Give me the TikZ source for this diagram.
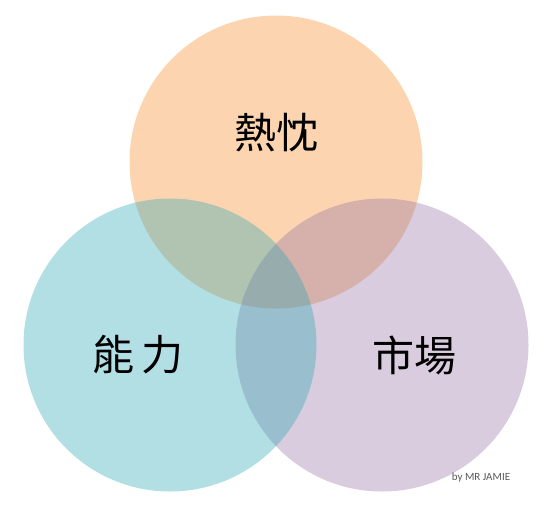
\documentclass[tikz,border=0pt]{standalone}
\usepackage{fontspec}
\setmainfont{Carlito}
\newfontfamily\cjk{Noto Sans CJK TC}
\usetikzlibrary{positioning}
\definecolor{passioncol}{RGB}{247,138,36}
\definecolor{skillcol}{RGB}{41,166,180}
\definecolor{marketcol}{RGB}{147,113,163}
\definecolor{signcol}{RGB}{89,89,89}

\begin{document}
\begin{tikzpicture}[x=1pt,y=-1pt,set/.style={circle,fill=#1,fill opacity=0.36,minimum size=293pt,inner sep=0pt},lbl/.style={font=\cjk\fontsize{42}{42}\selectfont,inner sep=0pt}]
  \useasboundingbox (0,0) rectangle (546,509);
  \node[set=passioncol] (passion) at (276,162) {};
  \node[set=marketcol] (market) at (382,345) {};
  \node[set=skillcol] (skill) at (170,345) {};

  \node[lbl] (passiontxt) at (276,133) {熱忱};
  \node[lbl] (skilltxt) at (138,355) {能\,力};
  \node[lbl] (markettxt) at (414,355) {市場};
  \node[font=\fontsize{11}{11}\selectfont,text=signcol,inner sep=0pt] (sign) at (481,478) {by MR JAMIE};
\end{tikzpicture}
\end{document}
